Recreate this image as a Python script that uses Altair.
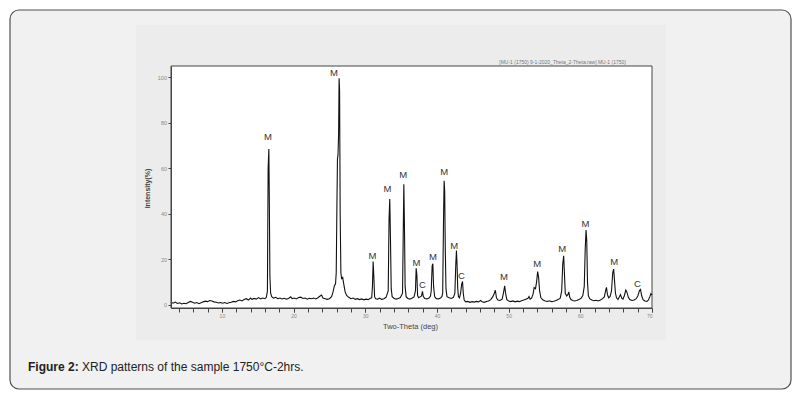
import altair as alt
import pandas as pd

# XRD pattern (2-theta in deg, intensity in %)
two_theta = [
    2.9, 3.2, 3.5, 3.8, 4.1, 4.4, 4.7, 5.0, 5.3, 5.6,
    5.9, 6.2, 6.5, 6.8, 7.1, 7.4, 7.7, 8.0, 8.3, 8.6,
    8.9, 9.2, 9.5, 9.8, 10.1, 10.4, 10.7, 11.0, 11.3, 11.6,
    11.9, 12.2, 12.5, 12.8, 13.1, 13.4, 13.7, 14.0, 14.2, 14.5,
    14.8, 15.1, 15.4, 15.7, 16.0, 16.2, 16.35, 16.45, 16.55, 16.62,
    16.7, 16.8, 16.95, 17.2, 17.5, 17.8, 18.1, 18.4, 18.7, 19.0,
    19.3, 19.6, 19.8, 20.1, 20.4, 20.7, 21.0, 21.3, 21.6, 21.9,
    22.2, 22.5, 22.8, 23.1, 23.4, 23.7, 23.9, 24.1, 24.4, 24.7,
    25.0, 25.3, 25.5, 25.7, 25.85, 25.95, 26.05, 26.12, 26.2, 26.28,
    26.35, 26.42, 26.5, 26.6, 26.7, 26.85, 27.0, 27.2, 27.4, 27.7,
    28.0, 28.3, 28.6, 28.9, 29.2, 29.5, 29.8, 30.1, 30.4, 30.7,
    30.9, 31.0, 31.1, 31.2, 31.3, 31.45, 31.7, 32.0, 32.3, 32.6,
    32.9, 33.2, 33.32, 33.42, 33.52, 33.62, 33.75, 34.0, 34.3, 34.6,
    34.9, 35.2, 35.3, 35.38, 35.46, 35.56, 35.7, 35.95, 36.2, 36.5,
    36.8, 37.0, 37.1, 37.2, 37.3, 37.45, 37.65, 37.85, 37.98, 38.1,
    38.3, 38.6, 38.9, 39.1, 39.2, 39.33, 39.43, 39.53, 39.68, 39.9,
    40.2, 40.5, 40.7, 40.8, 40.92, 41.0, 41.08, 41.16, 41.26, 41.4,
    41.7, 42.0, 42.3, 42.5, 42.62, 42.72, 42.8, 42.9, 43.0, 43.15,
    43.3, 43.45, 43.57, 43.67, 43.8, 44.0, 44.3, 44.6, 44.9, 45.2,
    45.5, 45.8, 46.1, 46.3, 46.6, 46.9, 47.2, 47.5, 47.8, 48.0,
    48.15, 48.3, 48.5, 48.8, 49.1, 49.3, 49.45, 49.58, 49.75, 50.0,
    50.3, 50.6, 50.9, 51.2, 51.5, 51.8, 52.1, 52.4, 52.7, 52.85,
    53.0, 53.2, 53.4, 53.56, 53.75, 53.9, 54.05, 54.18, 54.32, 54.5,
    54.8, 55.1, 55.4, 55.7, 56.0, 56.3, 56.6, 56.9, 57.2, 57.4,
    57.55, 57.68, 57.78, 57.9, 58.1, 58.28, 58.4, 58.52, 58.7, 58.95,
    59.2, 59.5, 59.8, 60.1, 60.35, 60.55, 60.68, 60.8, 60.9, 61.0,
    61.12, 61.3, 61.6, 61.9, 62.2, 62.5, 62.8, 63.1, 63.35, 63.55,
    63.65, 63.78, 63.95, 64.15, 64.35, 64.52, 64.65, 64.76, 64.9, 65.05,
    65.25, 65.45, 65.6, 65.78, 65.95, 66.15, 66.35, 66.5, 66.7, 66.9,
    67.2, 67.5, 67.8, 68.05, 68.25, 68.4, 68.55, 68.75, 69.0, 69.3,
    69.5, 69.7, 69.85, 70.0,
]
intensity = [
    1.0, 0.6, 1.1, 0.5, 0.8, 0.3, 0.6, 0.4, 0.9, 1.4,
    1.0, 0.6, 0.9, 0.4, 0.8, 1.2, 1.5, 1.3, 1.8, 1.6,
    1.2, 1.0, 0.7, 0.9, 0.6, 0.9, 0.5, 0.8, 1.0, 1.4,
    1.2, 1.7, 2.0, 1.6, 2.2, 2.6, 2.0, 2.9, 2.3, 2.7,
    2.4, 3.1, 2.5, 2.9, 2.6, 3.2, 6.0, 60.0, 68.5, 44.0,
    12.0, 5.0, 3.5, 2.8, 3.2, 2.6, 2.9, 2.5, 2.8, 2.4,
    2.7, 3.4, 2.6, 2.9, 2.5, 3.1, 3.3, 2.7, 2.9, 2.4,
    2.8, 2.6, 2.9, 2.5, 3.0, 3.8, 4.2, 2.9, 2.6, 2.3,
    2.6, 3.5, 5.5, 8.5, 9.0, 14.0, 45.0, 64.0, 66.0, 75.0,
    99.6, 94.0, 40.0, 14.0, 11.5, 12.0, 9.0, 5.5, 4.0, 3.2,
    2.6, 2.9, 2.3, 2.6, 2.2, 2.5, 2.1, 2.4, 2.2, 2.8,
    3.0, 8.0, 19.0, 12.0, 3.5, 2.6, 2.4, 2.8, 2.3, 2.6,
    3.2, 6.0, 38.0, 46.5, 28.0, 7.0, 3.5, 2.8, 2.4, 2.7,
    3.1, 5.0, 32.0, 53.0, 36.0, 8.0, 3.5, 2.7, 2.4, 2.8,
    3.4, 6.0, 16.0, 13.0, 4.0, 3.0, 3.4, 3.8, 5.8, 3.5,
    2.7, 2.5, 2.9, 3.8, 6.0, 17.0, 18.0, 8.0, 3.5, 2.6,
    2.5, 2.9, 3.6, 5.0, 38.0, 54.5, 50.0, 25.0, 7.0, 3.5,
    3.0, 2.7, 3.2, 5.0, 17.0, 23.8, 18.0, 7.0, 3.5, 3.0,
    5.0, 9.0, 10.2, 5.0, 2.0, 1.2, 1.4, 1.0, 1.3, 1.1,
    1.4, 1.2, 1.8, 1.2, 1.0, 1.4, 1.6, 2.2, 3.5, 5.0,
    6.3, 3.0, 2.0, 1.8, 2.4, 5.5, 8.3, 5.0, 2.2, 1.6,
    1.3, 1.6, 1.2, 1.5, 1.3, 1.7, 2.0, 2.4, 2.8, 3.6,
    2.4, 2.8, 4.5, 7.5, 7.0, 10.0, 14.5, 12.0, 6.0, 3.0,
    2.0, 1.6, 1.4, 1.7, 1.3, 1.5, 1.8, 2.2, 2.8, 6.0,
    18.0, 21.5, 14.0, 5.0, 3.8, 4.5, 5.6, 3.2, 2.2, 1.8,
    1.6, 1.8, 2.2, 2.8, 4.0, 8.0, 24.0, 32.8, 28.0, 10.0,
    4.0, 2.6, 2.0, 1.7, 1.9, 1.6, 2.0, 2.6, 3.4, 6.5,
    7.6, 4.5, 3.0, 3.5, 6.0, 14.0, 15.6, 11.0, 5.0, 3.0,
    2.2, 3.5, 4.4, 2.8, 2.4, 4.0, 6.4, 5.5, 3.2, 2.2,
    1.8, 2.0, 2.6, 4.0, 6.2, 6.7, 4.0, 2.2, 1.6, 1.4,
    2.0, 3.5, 4.8, 4.2,
]

# phase labels (M / C) and where they sit
peak_labels = ["M", "M", "M", "M", "M", "M", "C", "M", "M", "M", "C",
               "M", "M", "M", "M", "M", "C"]
label_theta = [16.42, 25.62, 31.02, 33.11, 35.29, 37.15, 37.99, 39.43, 41.0,
               42.4, 43.43, 49.33, 53.97, 57.46, 60.72, 64.71, 67.98]
label_height = [73.7, 101.9, 21.3, 50.7, 57.0, 18.4, 8.6, 21.0, 58.2,
                25.9, 12.7, 12.0, 17.8, 24.4, 35.4, 18.6, 9.0]

x_labels = [10, 20, 30, 40, 50, 60, 70]
x_minor = list(range(4, 71, 2))
y_ticks = [0, 20, 40, 60, 80, 100]

W, H = 481, 242

pattern = pd.DataFrame({"theta": two_theta, "intensity": intensity})
labels = pd.DataFrame({"theta": label_theta, "h": label_height, "txt": peak_labels})
one = pd.DataFrame({"a": [0]})

x_scale = alt.Scale(domain=[2.9, 70], nice=False, zero=False)
y_scale = alt.Scale(domain=[-1.5, 105], nice=False, zero=False)


def box(x, x2, y, y2, **style):
    return alt.Chart(one).mark_rect(**style).encode(
        x=alt.value(x), x2=alt.value(x2), y=alt.value(y), y2=alt.value(y2)
    )


outer = box(-161, 620, -56, 323, fill="#f1f1f1", stroke="#505050",
            strokeWidth=1.2, cornerRadius=9)
inner = box(-35, 495, -41, 274, fill="#ececec")
frame = box(0, W, 0, H, fill="white", stroke="#444444", strokeWidth=1)

x_axis = alt.Axis(values=x_labels, title="Two-Theta (deg)", orient="bottom", grid=False,
                  tickSize=4, tickColor="#444", domainColor="#444", labelOverlap=False,
                  labelFontSize=5, labelColor="#888", labelPadding=1.5,
                  titleFontSize=7.5, titleColor="#444", titleFontWeight="normal",
                  titleX=239, titleY=18, titleBaseline="middle", zindex=1)

x_minor_axis = alt.Axis(values=x_minor, title="", orient="bottom", labels=False,
                        grid=False, domain=False, tickSize=4, tickColor="#444", zindex=1)

y_axis = alt.Axis(values=y_ticks, title="Intensity(%)", orient="left", grid=False,
                  tickSize=3, labelOverlap=False, tickColor="#444", domainColor="#444",
                  labelFontSize=5.5, labelColor="#888", labelPadding=1.5,
                  titleFontSize=7, titleColor="#444", titleFontWeight="bold",
                  titleX=-24, titleY=122, titleAngle=270, titleAlign="center",
                  titleBaseline="middle", zindex=1)

line = alt.Chart(pattern).mark_line(color="#111111", strokeWidth=1.1).encode(
    x=alt.X("theta:Q", scale=x_scale, axis=x_axis),
    y=alt.Y("intensity:Q", scale=y_scale, axis=y_axis),
)

peak_text = alt.Chart(labels).mark_text(
    fontSize=9.5, color="#333333", font="Liberation Sans", baseline="middle"
).encode(
    x=alt.X("theta:Q", scale=x_scale, axis=x_minor_axis),
    y=alt.Y("h:Q", scale=y_scale, axis=y_axis),
    text="txt:N",
)

header = alt.Chart(one).mark_text(
    text="[MU-1 (1750) 9-1-2020_Theta_2-Theta.raw] MU-1 (1750)",
    fontSize=5, color="#777777", align="right", baseline="middle"
).encode(x=alt.value(455), y=alt.value(-4))

cap_bold = alt.Chart(one).mark_text(
    text="Figure 2:", fontSize=12, fontWeight="bold", color="#222222",
    font="Liberation Sans", align="left", baseline="alphabetic"
).encode(x=alt.value(-143), y=alt.value(305))

cap_rest = alt.Chart(one).mark_text(
    text="XRD patterns of the sample 1750°C-2hrs.", fontSize=12, color="#222222",
    font="Liberation Sans", align="left", baseline="alphabetic"
).encode(x=alt.value(-89), y=alt.value(305))

chart = alt.layer(
    outer, inner, frame, line, peak_text, header, cap_bold, cap_rest
).resolve_axis(x="independent").properties(
    width=W, height=H,
    autosize=alt.AutoSizeParams(type="none"),
    padding={"left": 163, "top": 58, "right": 145, "bottom": 84},
).configure_view(strokeWidth=0).configure_axis(labelFont="Liberation Sans",
                                              titleFont="Liberation Sans")

chart.save("out.html", embed_options={"renderer": "svg", "actions": False})
